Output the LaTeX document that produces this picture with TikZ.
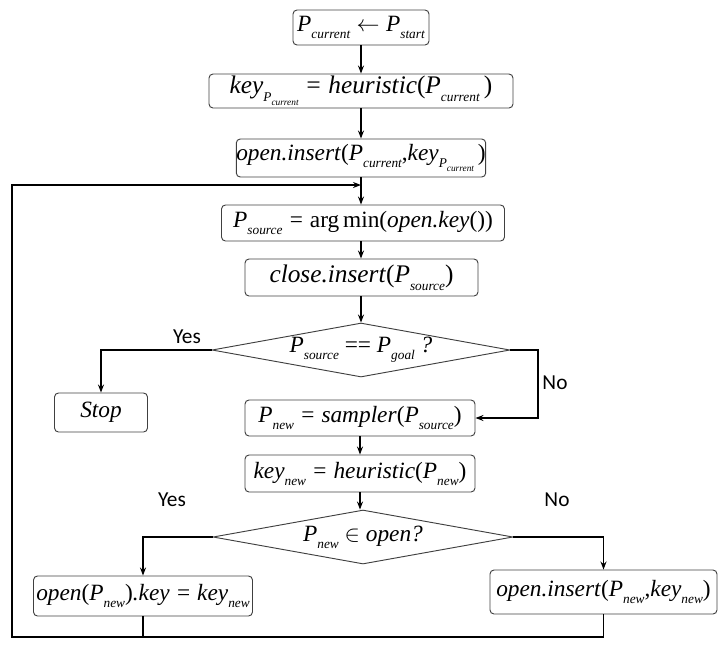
\documentclass[tikz,border=0pt]{standalone}
\usepackage{fontspec}
\setmainfont{Liberation Serif}
\newfontfamily\lab{Carlito}
\usetikzlibrary{shapes.geometric,arrows.meta}
\newcommand\Sb[1]{\raisebox{-0.3em}{\fontsize{10}{11}\selectfont #1}}
\newcommand\Ssb[1]{\raisebox{-0.3em}{\fontsize{7}{8}\selectfont #1}}
\newcommand\lp{\textup{(}}
\newcommand\rp{\textup{)}}
\begin{document}
\begin{tikzpicture}[x=0.75pt,y=-0.75pt,
  box/.style={draw=black!75, rounded corners=3pt, inner sep=0pt, line width=0.7pt,
    font=\itshape\fontsize{17.5}{20}\selectfont},
  dia/.style={draw=black!75, diamond, aspect=5.5, inner sep=0pt, line width=0.7pt,
    font=\itshape\fontsize{17.5}{20}\selectfont},
  conn/.style={line width=1pt},
  arr/.style={conn, -{Stealth[length=6pt,width=4.5pt]}},
  lbl/.style={font=\lab\fontsize{16}{18}\selectfont}]
\useasboundingbox (0,0) rectangle (718,651);

\node[box, minimum width=136*0.75pt, minimum height=35*0.75pt] (b1) at (361,27.5)
  {P\Sb{current}${}\leftarrow{}$P\Sb{start}};
\node[box, minimum width=304*0.75pt, minimum height=34*0.75pt, font=\itshape\fontsize{19}{21}\selectfont] (b2) at (361,91)
  {key\Sb{P\Ssb{current}} = heuristic\lp P\Sb{current}\,\rp};
\node[box, minimum width=247*0.75pt, minimum height=38*0.75pt] (b3) at (361,158)
  {open.insert\lp P\Sb{current}\textup{,}key\Sb{P\Ssb{current}}\,\rp};
\node[box, minimum width=283*0.75pt, minimum height=36*0.75pt] (b4) at (363,223)
  {P\Sb{source} = \textup{arg\,min}\lp open.key\lp\rp\rp};
\node[box, minimum width=233*0.75pt, minimum height=37*0.75pt, font=\itshape\fontsize{19}{21}\selectfont] (b5) at (361.5,277.5)
  {close.insert\lp P\Sb{source}\rp};
\node[dia, minimum width=298*0.75pt, minimum height=54*0.75pt] (d1) at (361,350)
  {P\Sb{source} \textup{==} P\Sb{goal} ?};
\node[box, minimum width=93*0.75pt, minimum height=39*0.75pt] (stop) at (101,412.5)
  {Stop};
\node[box, minimum width=230*0.75pt, minimum height=36*0.75pt] (b6) at (360,418)
  {P\Sb{new} = sampler\lp P\Sb{source}\rp};
\node[box, minimum width=230*0.75pt, minimum height=37*0.75pt] (b7) at (360,473.5)
  {key\Sb{new} = heuristic\lp P\Sb{new}\rp};
\node[dia, minimum width=300*0.75pt, minimum height=54*0.75pt] (d2) at (363,537)
  {P\Sb{new} $\in$ open?};
\node[box, minimum width=219*0.75pt, minimum height=40*0.75pt] (b8) at (143,596)
  {open\lp P\Sb{new}\rp.key = key\Sb{new}};
\node[box, minimum width=227*0.75pt, minimum height=44*0.75pt] (b9) at (603.5,592)
  {open.insert\lp P\Sb{new}\textup{,}key\Sb{new}\rp};

\node[lbl] (y1) at (187,337) {Yes};
\node[lbl] (n1) at (555,383) {No};
\node[lbl] (y2) at (172,500) {Yes};
\node[lbl] (n2) at (557,500) {No};

\coordinate (j) at (361,185);
\coordinate (r1) at (538,350);
\coordinate (bl) at (12,637);
\coordinate (tl) at (12,185);

\draw[arr] (b1.south) -- (b1.south |- b2.north);
\draw[arr] (b2.south) -- (b2.south |- b3.north);
\draw[arr] (b3.south) -- (b3.south |- b4.north);
\draw[arr] (b3.south |- b4.south) -- (b3.south |- b5.north);
\draw[arr] (b3.south |- b5.south) -- (d1.north);
\draw[arr] (d1.west) -| (stop.north);
\draw[arr] (d1.east) -- (r1) |- (b6.east);
\draw[arr] (b6.south) -- (b7.north);
\draw[arr] (b7.south) -- (b7.south |- d2.north);
\draw[arr] (d2.west) -| (b8.north);
\draw[arr] (d2.east) -| (b9.north);
\draw[conn] (b8.south) -- (b8.south |- bl);
\draw[arr] (b9.south) |- (bl) -- (tl) -- (j);
\end{tikzpicture}
\end{document}
